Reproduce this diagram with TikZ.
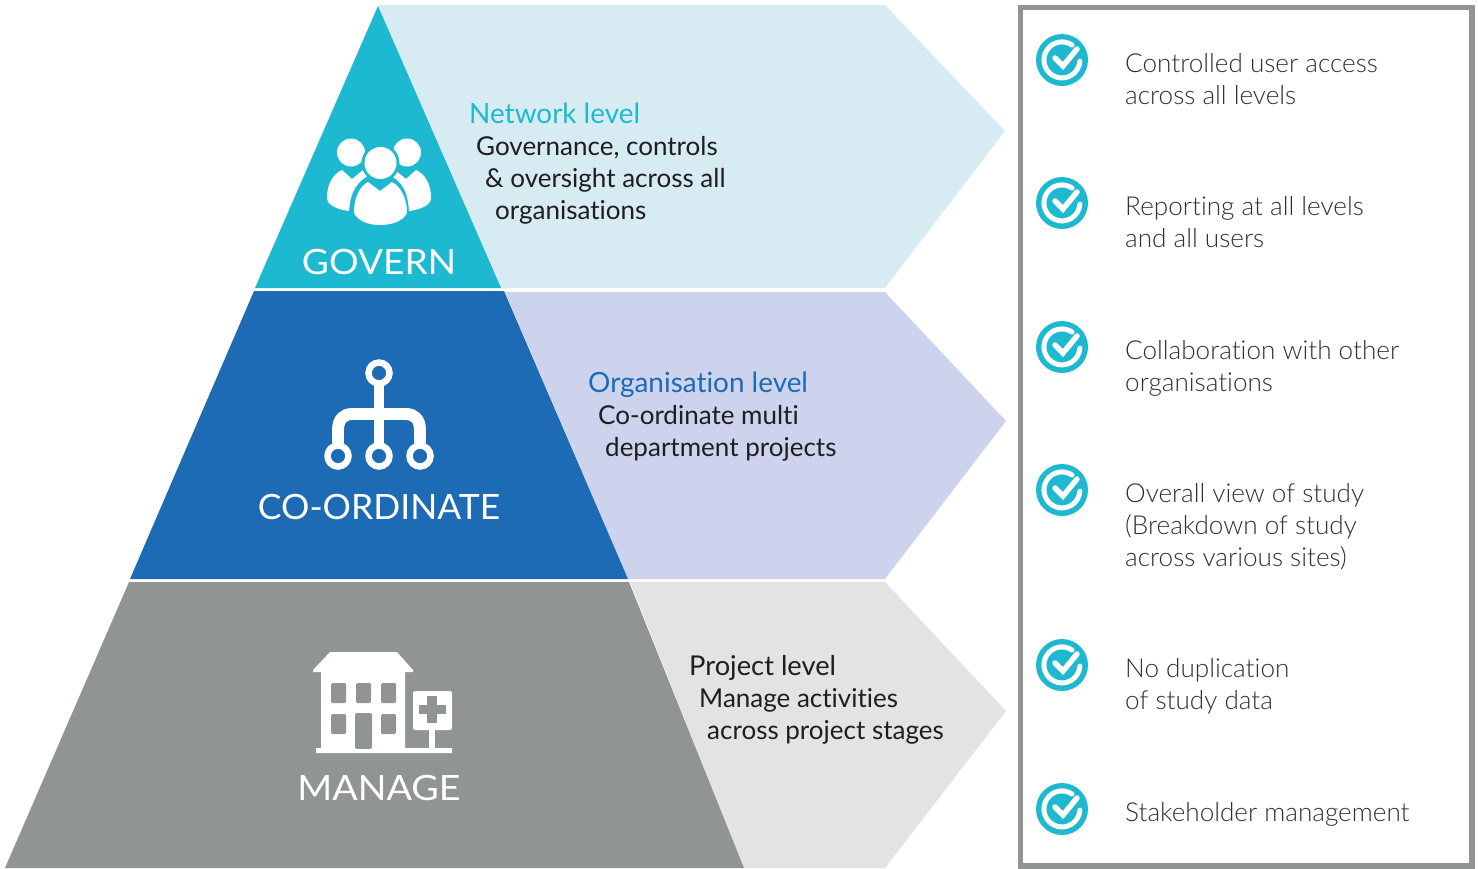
\documentclass[tikz,border=0pt]{standalone}
\usepackage{fontspec}
\setmainfont[Ligatures=NoCommon]{Lato}
\newfontfamily\lightfont[Ligatures=NoCommon]{Lato Light}
\definecolor{cteal}{RGB}{29,185,208}
\definecolor{cteall}{RGB}{215,235,243}
\definecolor{cblue}{RGB}{29,106,181}
\definecolor{cbluel}{RGB}{205,211,237}
\definecolor{cgrey}{RGB}{145,148,148}
\definecolor{cgreyl}{RGB}{227,227,227}
\definecolor{cink}{RGB}{30,30,32}
\definecolor{ctext}{RGB}{45,47,50}
\tikzset{
 x=1bp,y=-1bp,
 tier/.style={font=\fontsize{35}{35}\selectfont,text=white,inner sep=0pt,anchor=center},
 lvl/.style={font=\fontsize{28}{28}\selectfont,inner sep=0pt,anchor=base west},
 desc/.style={font=\fontsize{26.1}{26}\selectfont,text=cink,inner sep=0pt,anchor=base west},
 item/.style={font=\lightfont\fontsize{26.2}{26}\selectfont,text=ctext,inner sep=0pt,anchor=base west},
 check/.pic={
  \fill[cteal] (0,0) circle (26);
  \draw[white,line width=5,line cap=round] (10,-15) arc[start angle=-56,end angle=-356,radius=18];
  \draw[white,line width=5.5,line cap=round,line join=miter] (-7,-2) -- (1,6) -- (15,-11);
 }
}
\begin{document}
\begin{tikzpicture}
\useasboundingbox (0,0) rectangle (1478,868);
% chevrons
\fill[cteall] (378,5) -- (885,5) -- (1005,131) -- (885,288) -- (490,288) -- cycle;
\fill[cbluel] (505,292) -- (885,292) -- (1006,421) -- (885,579) -- (628,579) -- cycle;
\fill[cgreyl] (630,582) -- (885,582) -- (1006,711) -- (885,868) -- (744,868) -- cycle;
% pyramid
\fill[cteal] (378,6) -- (501,288) -- (255,288) -- cycle;
\fill[cblue] (254,291) -- (504,291) -- (628,579) -- (130,579) -- cycle;
\fill[cgrey] (129,582) -- (629,582) -- (744,868) -- (5,868) -- cycle;
% govern icon
\fill[white] (351,152.5) circle (14);
\fill[white] (407,152.5) circle (14);
\fill[white] (327,198) .. controls (327,184) and (333,174) .. (342,170) -- (352,179) -- (363,170) -- (368,176) .. controls (353,184) and (350,198) .. (349,211) .. controls (340,210) and (327,206) .. (327,198) -- cycle;
\fill[white] (431,198) .. controls (431,184) and (425,174) .. (416,170) -- (406,179) -- (395,170) -- (391,176) .. controls (406,184) and (408,198) .. (409,211) .. controls (418,210) and (431,206) .. (431,198) -- cycle;
\fill[cteal] (380.5,163) circle (19);
\fill[white] (380.5,163) circle (16);
\fill[white] (354,213) .. controls (354,198) and (359,187) .. (368,182) -- (380,191) -- (392,182) .. controls (401,187) and (407,198) .. (407,213) .. controls (403,221) and (392,225) .. (380,225) .. controls (368,225) and (358,221) .. (354,213) -- cycle;
% coordinate icon
\draw[white,line width=6.5] (379,373) circle (10.5);
\draw[white,line width=6.5] (338,456) circle (10.5);
\draw[white,line width=6.5] (379,456) circle (10.5);
\draw[white,line width=6.5] (420,456) circle (10.5);
\draw[white,line width=11] (379,386) -- (379,443);
\draw[white,line width=12] (338,443) -- (338,430) .. controls (338,419) and (344,414) .. (352,414) -- (406,414) .. controls (414,414) and (420,419) .. (420,430) -- (420,443);
% manage icon
\fill[white] (330,652) -- (397,652) -- (413,670) -- (413,672) -- (405,672) -- (405,748) -- (452,748) -- (452,753) -- (316,753) -- (316,748) -- (321,748) -- (321,672) -- (313,672) -- (313,670) -- cycle;
\foreach \px/\py in {331/683, 356/683, 381/683, 331/714, 381/714}
 \fill[cgrey,rounded corners=1.5] (\px,\py) rectangle ++(15,20);
\fill[cgrey,rounded corners=2] (355,749) -- (355,713) -- (372,713) -- (372,749) -- cycle;
\fill[white] (356,749) rectangle (371,753);
\fill[white,rounded corners=2] (413,691) rectangle (452,730);
\fill[white] (429,729) rectangle (435,748);
\fill[cgrey] (427,696) rectangle (437,723);
\fill[cgrey] (419,705) rectangle (446,714);
% pyramid labels
\node[tier] (gov) at (379,262) {\scalebox{1.063}[1]{GOVERN}};
\node[tier] (coo) at (379,507) {\scalebox{1.017}[1]{CO-ORDINATE}};
\node[tier] (man) at (379,788) {\scalebox{1.08}[1]{MANAGE}};
% level text
\node[lvl,text=cteal] (n1) at (469,123) {Network level};
\node[desc] (n2) at (476,155) {Governance, controls};
\node[desc] (n3) at (485,187) {\& oversight across all};
\node[desc] (n4) at (495,219) {organisations};
\node[lvl,text=cblue] (o1) at (588,392) {Organisation level};
\node[desc] (o2) at (598,424) {Co-ordinate multi};
\node[desc] (o3) at (605,456) {department projects};
\node[lvl,text=cink,font=\fontsize{27.4}{28}\selectfont] (p1) at (689,675) {Project level};
\node[desc] (p2) at (699,707) {Manage activities};
\node[desc] (p3) at (707,739) {across project stages};
% box
\draw[cgrey,line width=5.5] (1020.5,7.5) rectangle (1472,866);
\foreach \cy in {60,203,347,490,665,809} \pic at (1062,\cy) {check};
\node[item] (a1) at (1125,72) {Controlled user access};
\node[item] (a2) at (1125,104) {across all levels};
\node[item] (b1) at (1125,215) {Reporting at all levels};
\node[item] (b2) at (1125,247) {and all users};
\node[item] (c1) at (1125,359) {Collaboration with other};
\node[item] (c2) at (1125,391) {organisations};
\node[item] (d1) at (1125,502) {Overall view of study};
\node[item] (d2) at (1125,534) {(Breakdown of study};
\node[item] (d3) at (1125,566) {across various sites)};
\node[item] (e1) at (1125,677) {No duplication};
\node[item] (e2) at (1125,709) {of study data};
\node[item] (f1) at (1125,821) {Stakeholder management};
\end{tikzpicture}
\end{document}
